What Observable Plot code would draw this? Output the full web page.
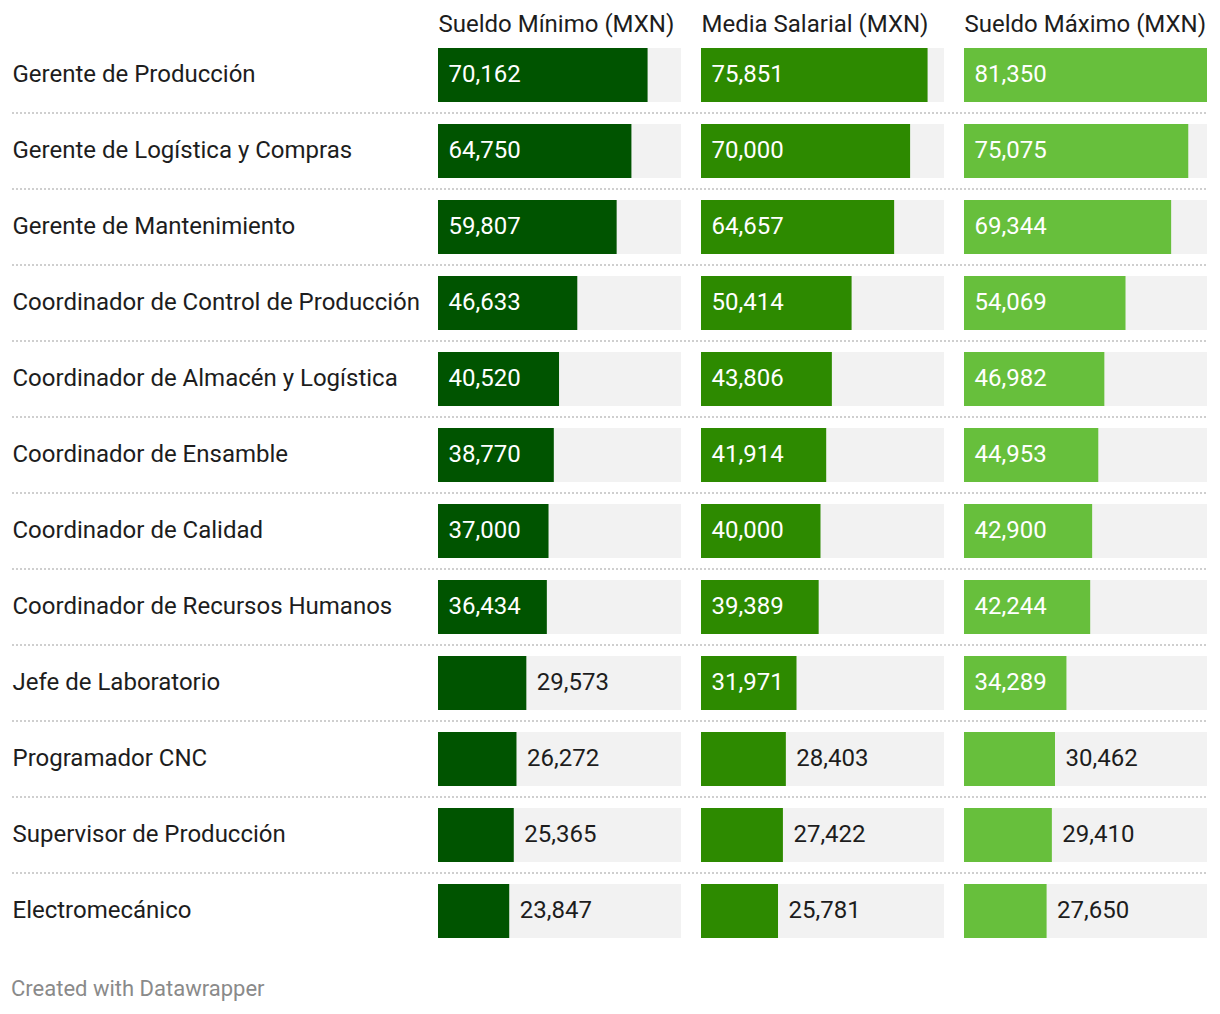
<!DOCTYPE html>
<html>
<head>
<meta charset="utf-8">
<script src="https://cdn.jsdelivr.net/npm/d3@7"></script>
<script src="https://cdn.jsdelivr.net/npm/@observablehq/plot@0.6"></script>
<style>
  body { margin: 0; background: #fff; font-family: Roboto, sans-serif; }
  #chart svg { display: block; }
  .footer { margin: 27px 0 0 11px; font-size: 22px; color: #8a8a8a; font-family: Roboto, sans-serif; }
</style>
</head>
<body>
<div id="chart"></div>
<div class="footer">Created with Datawrapper</div>
<script>
const puestos = [
  "Gerente de Producción",
  "Gerente de Logística y Compras",
  "Gerente de Mantenimiento",
  "Coordinador de Control de Producción",
  "Coordinador de Almacén y Logística",
  "Coordinador de Ensamble",
  "Coordinador de Calidad",
  "Coordinador de Recursos Humanos",
  "Jefe de Laboratorio",
  "Programador CNC",
  "Supervisor de Producción",
  "Electromecánico"
];
const columnas = ["Sueldo Mínimo (MXN)", "Media Salarial (MXN)", "Sueldo Máximo (MXN)"];
const minimo = [70162, 64750, 59807, 46633, 40520, 38770, 37000, 36434, 29573, 26272, 25365, 23847];
const media  = [75851, 70000, 64657, 50414, 43806, 41914, 40000, 39389, 31971, 28403, 27422, 25781];
const maximo = [81350, 75075, 69344, 54069, 46982, 44953, 42900, 42244, 34289, 30462, 29410, 27650];
const colores = ["#005400", "#2d8a00", "#67bf3c"];

const series = [minimo, media, maximo];
const rows = [];
series.forEach((vals, c) => vals.forEach((v, i) => rows.push({col: columnas[c], puesto: puestos[i], value: v})));
const maxVal = d3.max(rows, d => d.value);
const insideThreshold = 31000;
const fmt = d3.format(",");

const plot = Plot.plot({
  width: 1220,
  height: 949,
  marginTop: 37,
  marginBottom: 0,
  marginLeft: 438,
  marginRight: 12,
  style: {fontFamily: "Roboto, sans-serif", fontSize: "24px", color: "#1d1d1d", background: "#fff"},
  fx: {domain: columnas, paddingInner: 0.076, paddingOuter: 0, axis: null, label: null},
  y: {domain: puestos, paddingInner: 0.29, paddingOuter: 0.145, axis: null, label: null},
  x: {domain: [0, maxVal], axis: null, label: null},
  color: {domain: columnas, range: colores},
  marks: [
    Plot.barX(rows, {fx: "col", y: "puesto", x1: 0, x2: maxVal, fill: "#f2f2f2"}),
    Plot.barX(rows, {fx: "col", y: "puesto", x1: 0, x2: "value", fill: "col"}),
    Plot.text(rows.filter(d => d.value >= insideThreshold), {
      fx: "col", y: "puesto", x: 0, text: d => fmt(d.value), textAnchor: "start", dx: 10, dy: -1, fill: "#fff", fontSize: 24
    }),
    Plot.text(rows.filter(d => d.value < insideThreshold), {
      fx: "col", y: "puesto", x: "value", text: d => fmt(d.value), textAnchor: "start", dx: 10, dy: -1, fill: "#1d1d1d", fontSize: 24
    }),
    Plot.text(puestos, {
      fx: () => columnas[0], y: d => d, frameAnchor: "left", dx: -426, dy: -1, textAnchor: "start", fill: "#1d1d1d", fontSize: 24
    }),
    Plot.text(columnas, {
      fx: d => d, text: d => d, frameAnchor: "top-left", textAnchor: "start", lineAnchor: "bottom", dy: -6, fill: "#1d1d1d", fontSize: 24
    })
  ]
});

document.getElementById("chart").appendChild(plot);

// dotted separators between rows, positioned with Plot's y scale
const yScale = plot.scale("y");
const svg = d3.select(plot);
const step = yScale.step, bw = yScale.bandwidth;
puestos.slice(0, -1).forEach(p => {
  const y = yScale.apply(p) + bw + (step - bw) / 2;
  svg.append("line")
    .attr("x1", 12).attr("x2", 1208)
    .attr("y1", y).attr("y2", y)
    .attr("stroke", "#cfcfcf").attr("stroke-width", 2)
    .attr("stroke-dasharray", "2,2");
});
</script>
</body>
</html>
